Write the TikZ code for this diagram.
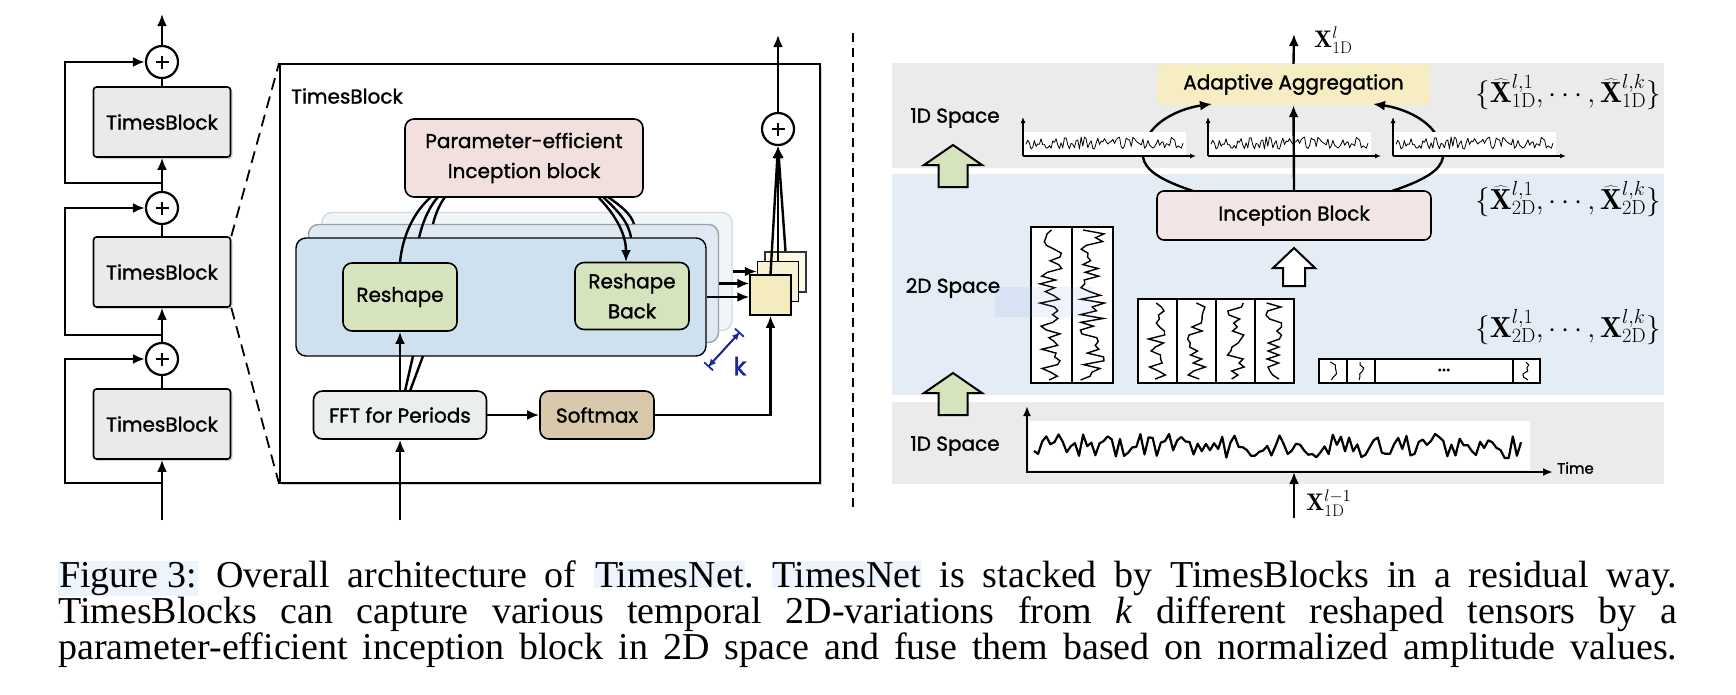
\RequirePackage{fix-cm}
\documentclass[tikz,border=0pt]{standalone}
\usepackage{fontspec}
\usetikzlibrary{arrows.meta,shadows,calc}
\newfontfamily\fut[FakeBold=1.4]{Poppins}
\newfontfamily\capfont{Liberation Serif}
\definecolor{tbgray}{HTML}{E9EAE9}
\definecolor{pinkc}{HTML}{F2E0DF}
\definecolor{ibc}{HTML}{F1E6E5}
\definecolor{lay0}{HTML}{CFE1EF}
\definecolor{lay1}{HTML}{DFE9F3}
\definecolor{lay2}{HTML}{F0F5FA}
\definecolor{gfill}{HTML}{D6E4BE}
\definecolor{fftc}{HTML}{EBEFEB}
\definecolor{tanc}{HTML}{D9C8AB}
\definecolor{sqa}{HTML}{F4EBBF}
\definecolor{sqb}{HTML}{F7F1D4}
\definecolor{sqc}{HTML}{FBF8E8}
\definecolor{aac}{HTML}{F6EDC3}
\definecolor{bandgray}{HTML}{EBEBEB}
\definecolor{bandblue}{HTML}{E4EDF6}
\definecolor{kblue}{HTML}{1B2A9A}
\definecolor{hl}{HTML}{EEF4FD}
\definecolor{hlov}{HTML}{7FA0EB}
\tikzset{
  ln/.style={line width=2.4pt},
  arr/.style={-{Latex[length=12pt,width=10pt]}},
  sarr/.style={-{Latex[length=6pt,width=5pt]}},
  lab/.style={font=\fut\fontsize{20}{30}\selectfont, inner sep=0pt},
  tb/.style={draw, line width=1.6pt, fill=tbgray, rounded corners=3pt, minimum width=137pt, minimum height=70pt, font=\fut\fontsize{20}{24}\selectfont, drop shadow={shadow xshift=2pt, shadow yshift=-2pt, opacity=0.35}},
  plus/.style={circle, draw, line width=2.2pt, fill=white, minimum size=32pt, inner sep=0pt,
    path picture={\draw[line width=2.4pt] ([xshift=-6.5pt]path picture bounding box.center) -- ([xshift=6.5pt]path picture bounding box.center);
                  \draw[line width=2.4pt] ([yshift=-6.5pt]path picture bounding box.center) -- ([yshift=6.5pt]path picture bounding box.center);}},
  rbox/.style={draw, line width=1.6pt, rounded corners=9pt, font=\fut\fontsize{20}{30}\selectfont, align=center, inner sep=0pt},
  layer/.style={line width=1.4pt, rounded corners=10pt, minimum width=410pt, minimum height=118pt},
  sqr/.style={draw, line width=1.5pt, minimum width=41pt, minimum height=40pt, inner sep=0pt},
  tens/.style={draw, line width=2.4pt, fill=white, inner sep=0pt},
  wig/.style={line width=1.4pt, line join=miter},
  mathlab/.style={inner sep=0pt, font=\fontsize{29}{32}\selectfont},
  dashln/.style={line width=1.8pt, dash pattern=on 12pt off 7pt},
  garrow/.style={draw, line width=2pt, fill=gfill, line join=miter}
}
\begin{document}
\begin{tikzpicture}[x=1pt,y=-1pt]
\useasboundingbox (0,0) rectangle (1736,694);
\fill[white] (0,0) rectangle (1736,694);

% ---------------- left column ----------------
\node[tb] (tb1) at (162,122) {TimesBlock};
\node[tb] (tb2) at (162,272) {TimesBlock};
\node[tb] (tb3) at (162,424) {TimesBlock};
\node[plus] (c1) at (162,62) {};
\node[plus] (c2) at (162,208) {};
\node[plus] (c3) at (162,359) {};
\coordinate (in1) at (162,520);
\coordinate (out1) at (162,14);
\coordinate (r1) at (162,183);
\coordinate (r2) at (162,335);
\coordinate (r3) at (162,483);
\draw[ln,arr] (in1) -- (tb3.south);
\draw[ln] (tb3.north) -- (c3.south);
\draw[ln,arr] (c3.north) -- (tb2.south);
\draw[ln] (tb2.north) -- (c2.south);
\draw[ln,arr] (c2.north) -- (tb1.south);
\draw[ln] (tb1.north) -- (c1.south);
\draw[ln,arr] (c1.north) -- (out1);
\draw[ln,arr] (r3) -- (65,483) |- (c3.west);
\draw[ln,arr] (r2) -- (65,335) |- (c2.west);
\draw[ln,arr] (r1) -- (65,183) |- (c1.west);

% ---------------- TimesBlock detail ----------------
\node[draw, line width=1.8pt, fill=white, minimum width=540pt, minimum height=419pt, inner sep=0pt,
      drop shadow={shadow xshift=2pt, shadow yshift=-2pt, opacity=0.35}] (big) at (550,273.5) {};
\draw[dashln] (tb2.north east) -- (big.north west);
\draw[dashln] (tb2.south east) -- (big.south west);
\node[lab, anchor=west] (tbtitle) at (291,96) {TimesBlock};

\node[rbox, fill=pinkc, minimum width=238pt, minimum height=78pt] (peib) at (524,158) {Parameter-efficient\\Inception block};

\node[layer, fill=lay2, draw=gray!30] (L3) at (527,271.5) {};
\node[layer, fill=lay1, draw=gray!75] (L2) at (513.5,283.5) {};
\node[layer, fill=lay0, draw=black] (L1) at (501,297) {};

\node[rbox, fill=gfill, minimum width=114pt, minimum height=68pt] (rs) at (400,297) {Reshape};
\node[rbox, fill=gfill, minimum width=114pt, minimum height=67pt] (rsb) at (632,296) {Reshape\\Back};

% curves reshape -> inception
\coordinate (pa1) at (431,197);
\coordinate (pa2) at (438,197);
\coordinate (pa3) at (445,197);
\coordinate (la2) at (419,238);
\coordinate (la3) at (433,224);
\draw[ln] (rs.north) .. controls (403,232) and (416,210) .. (pa1);
\draw[ln] (la2) .. controls (423,220) and (430,206) .. (pa2);
\draw[ln] (la3) .. controls (436,212) and (440,204) .. (pa3);
% curves inception -> reshape back
\coordinate (pb1) at (598,197);
\coordinate (pb2) at (603,197);
\coordinate (pb3) at (608,197);
\coordinate (rb1) at (626,262);
\coordinate (lb2) at (631,238);
\coordinate (lb3) at (634,224);
\draw[ln,arr] (pb1) .. controls (613,212) and (626,232) .. (rb1);
\draw[ln] (pb2) .. controls (617,210) and (629,222) .. (lb2);
\draw[ln] (pb3) .. controls (621,206) and (631,214) .. (lb3);

\node[rbox, fill=fftc, minimum width=173pt, minimum height=48pt] (fft) at (400,415) {FFT for Periods};
\node[rbox, fill=tanc, minimum width=114pt, minimum height=48pt] (sm) at (597,415) {Softmax};
\coordinate (in2) at (400,520);
\coordinate (f1) at (405,391);
\coordinate (f2) at (410,391);
\coordinate (e1) at (413,356);
\coordinate (e2) at (423,356);
\draw[ln,arr] (in2) -- (fft.south);
\draw[ln,arr] (fft.north) -- (rs.south);
\draw[ln] (f1) -- (e1);
\draw[ln] (f2) -- (e2);
\draw[ln,arr] (fft.east) -- (sm.west);

\node[sqr, fill=sqc, draw=black!80] (sq3) at (785.5,272) {};
\node[sqr, fill=sqb] (sq2) at (778,281.5) {};
\node[sqr, fill=sqa] (sq1) at (770.5,295) {};
\draw[ln,arr] (sm.east) -| (sq1.south);
\draw[ln,arr] (L1.east) -- (L1.east -| sq1.west);
\draw[ln,arr] (L2.east) -- (L2.east -| sq1.west);
\draw[ln,arr] (L3.east) -- (L3.east -| sq2.west);

\node[plus] (pc) at (778,129) {};
\coordinate (out2) at (778,35);
\draw[ln,arr] (sq1.north) -- (pc.south);
\draw[ln,arr] (sq2.north) -- (pc.south);
\draw[ln,arr] (sq3.north) -- (pc.south);
\draw[ln,arr] (pc.north) -- (out2);

\coordinate (k1) at (708,367);
\coordinate (k2) at (740,332);
\draw[kblue, line width=1.8pt, {Latex[length=8pt,width=7pt]}-{Latex[length=8pt,width=7pt]}] (k1) -- (k2);
\draw[kblue, line width=1.8pt, {Bar[width=12pt]}-{Bar[width=12pt]}] (k1) -- (k2);
\node[lab, text=kblue, font=\fut\fontsize{25}{25}\selectfont] (klab) at (740,366) {k};

% separator
\coordinate (s1) at (853,33);
\coordinate (s2) at (853,510);
\draw[line width=1.6pt, dash pattern=on 9pt off 6pt] (s1) -- (s2);

% ---------------- right panel ----------------
\fill[bandgray] (892,63) rectangle (1664,168);
\fill[bandblue] (892,174) rectangle (1664,395);
\fill[bandgray] (892,402) rectangle (1664,484);

\node[lab] (sp1) at (955,118) {1D Space};
\node[lab] (sp2) at (953,288) {2D Space};
\node[lab] (sp3) at (955,446) {1D Space};

\draw[garrow] (953,145) -- ++(29,20) -- ++(-14.5,0) -- ++(0,22) -- ++(-29,0) -- ++(0,-22) -- ++(-14.5,0) -- cycle;
\draw[garrow] (953,373) -- ++(29,20) -- ++(-14.5,0) -- ++(0,22) -- ++(-29,0) -- ++(0,-22) -- ++(-14.5,0) -- cycle;

\node[fill=aac, rounded corners=6pt, minimum width=273pt, minimum height=41pt, inner sep=0pt, font=\fut\fontsize{20}{24}\selectfont] (aa) at (1293.5,84.5) {Adaptive Aggregation};
\node[rbox, fill=ibc, rounded corners=7pt, minimum width=274pt, minimum height=49pt] (ib) at (1294,215.5) {Inception Block};
\coordinate (out3) at (1294,34);
\draw[ln,arr] (aa.north) -- (out3);
\node[anchor=west, inner sep=0pt, font=\fontsize{24}{26}\selectfont] (xout) at (1314,40) {$\mathbf{X}^{l}_{\mathrm{1D}}$};

% curves around side plots (drawn before the plots)
\coordinate (ca1) at (1193,191);
\coordinate (ca2) at (1143,157);
\coordinate (ca3) at (1150,133);
\coordinate (ca4) at (1212,104);
\coordinate (cb1) at (1392,191);
\coordinate (cb2) at (1443,157);
\coordinate (cb3) at (1435,133);
\coordinate (cb4) at (1373,104);
\draw[ln] (ca1) .. controls (1160,180) and (1145,170) .. (ca2);
\draw[ln,arr] (ca3) .. controls (1160,118) and (1183,108) .. (ca4);
\draw[ln] (cb1) .. controls (1425,180) and (1441,170) .. (cb2);
\draw[ln,arr] (cb3) .. controls (1425,118) and (1402,108) .. (cb4);

% small 1D plots
\foreach \xo in {1023,1208,1393}{
  \pgfmathsetseed{7}
  \fill[white] (\xo+1,132) rectangle (\xo+163,155);
  \draw[line width=0.8pt, line join=round] plot[domain=3:160, samples=95] ({\xo+\x},{143+6*rand});
  \draw[line width=1.2pt, sarr] (\xo,156) -- (\xo,117);
  \draw[line width=1.2pt, sarr] (\xo,156) -- (\xo+173,156);
}
\draw[ln,arr] (ib.north) -- (aa.south);

% set labels
\node[mathlab] (set1) at (1568,92) {$\{\widehat{\mathbf{X}}^{l,1}_{\mathrm{1D}},\cdots,\widehat{\mathbf{X}}^{l,k}_{\mathrm{1D}}\}$};
\node[mathlab] (set2) at (1568,199) {$\{\widehat{\mathbf{X}}^{l,1}_{\mathrm{2D}},\cdots,\widehat{\mathbf{X}}^{l,k}_{\mathrm{2D}}\}$};
\node[mathlab] (set3) at (1568,327) {$\{\mathbf{X}^{l,1}_{\mathrm{2D}},\cdots,\mathbf{X}^{l,k}_{\mathrm{2D}}\}$};

% white arrow
\draw[line width=2pt, fill=white, line join=miter] (1294,248) -- ++(21,20) -- ++(-10,0) -- ++(0,18) -- ++(-22,0) -- ++(0,-18) -- ++(-10,0) -- cycle;

% 2D tensors
\node[tens, minimum width=82pt, minimum height=156pt] (t1) at (1072,305) {};
\pgfmathsetseed{11}
\draw[wig] plot[domain=3:153, samples=40] ({1051+13*rand},{227+\x});
\draw[wig] plot[domain=3:153, samples=40] ({1093+13*rand},{227+\x});
\draw[line width=2.4pt] (t1.north) -- (t1.south);

\node[tens, minimum width=156pt, minimum height=84pt] (t2) at (1216,341) {};
\foreach \cx in {1157.5,1196.5,1235.5,1274.5}{
  \draw[wig] plot[domain=4:80, samples=20] ({\cx+9*rand},{299+\x});
}
\draw[line width=2.4pt] (1177,299) -- (1177,383);
\draw[line width=2.4pt] (t2.north) -- (t2.south);
\draw[line width=2.4pt] (1255,299) -- (1255,383);

\node[tens, minimum width=221pt, minimum height=24pt] (t3) at (1429.5,371) {};
\foreach \cx in {1333,1361,1526.5}{
  \draw[line width=1pt] plot[domain=3:21, samples=7] ({\cx+4*rand},{359+\x});
}
\draw[line width=2.4pt] (1347,359) -- (1347,383);
\draw[line width=2.4pt] (1375,359) -- (1375,383);
\draw[line width=2.4pt] (1513,359) -- (1513,383);
\node[inner sep=0pt, font=\fut\fontsize{20}{20}\selectfont] (dots) at (1444,370) {...};

% faint highlight
\fill[hlov, opacity=0.12] (995,287) rectangle (1093,317);

% bottom 1D plot
\fill[white] (1029,421) rectangle (1530,470);
\pgfmathsetseed{3}
\draw[line width=2.2pt, line join=round] plot[domain=5:492, samples=120] ({1029+\x},{446+12*rand});
\coordinate (ax) at (1294,472);
\coordinate (in3) at (1294,518);
\draw[line width=2.2pt, -{Latex[length=10pt,width=8pt]}] (1027,473) -- (1027,406);
\draw[line width=2.2pt, -{Latex[length=10pt,width=8pt]}] (1026,472) -- (1553,472);
\node[anchor=west, inner sep=0pt, font=\fut\fontsize{15}{18}\selectfont] (time) at (1557,468) {Time};
\draw[ln,arr] (in3) -- (ax);
\node[anchor=west, inner sep=0pt, font=\fontsize{24}{26}\selectfont] (xin) at (1306,503) {$\mathbf{X}^{l-1}_{\mathrm{1D}}$};

% ---------------- caption ----------------
\setlength{\fboxsep}{1pt}
\node[anchor=base west, inner sep=0pt] (cap1) at (58,587) {\capfont\frenchspacing\fontsize{38}{40}\selectfont\makebox[1619pt][s]{\colorbox{hl}{Figure 3:} Overall architecture of \colorbox{hl}{TimesNet}. \colorbox{hl}{TimesNet} is stacked by TimesBlocks in a residual way.}};
\node[anchor=base west, inner sep=0pt] (cap2) at (58,623) {\capfont\frenchspacing\fontsize{38}{40}\selectfont\makebox[1619pt][s]{TimesBlocks can capture various temporal 2D-variations from \textit{k} different reshaped tensors by a}};
\node[anchor=base west, inner sep=0pt] (cap3) at (58,659) {\capfont\frenchspacing\fontsize{38}{40}\selectfont\makebox[1619pt][s]{parameter-efficient inception block in 2D space and fuse them based on normalized amplitude values.}};
\end{tikzpicture}
\end{document}
